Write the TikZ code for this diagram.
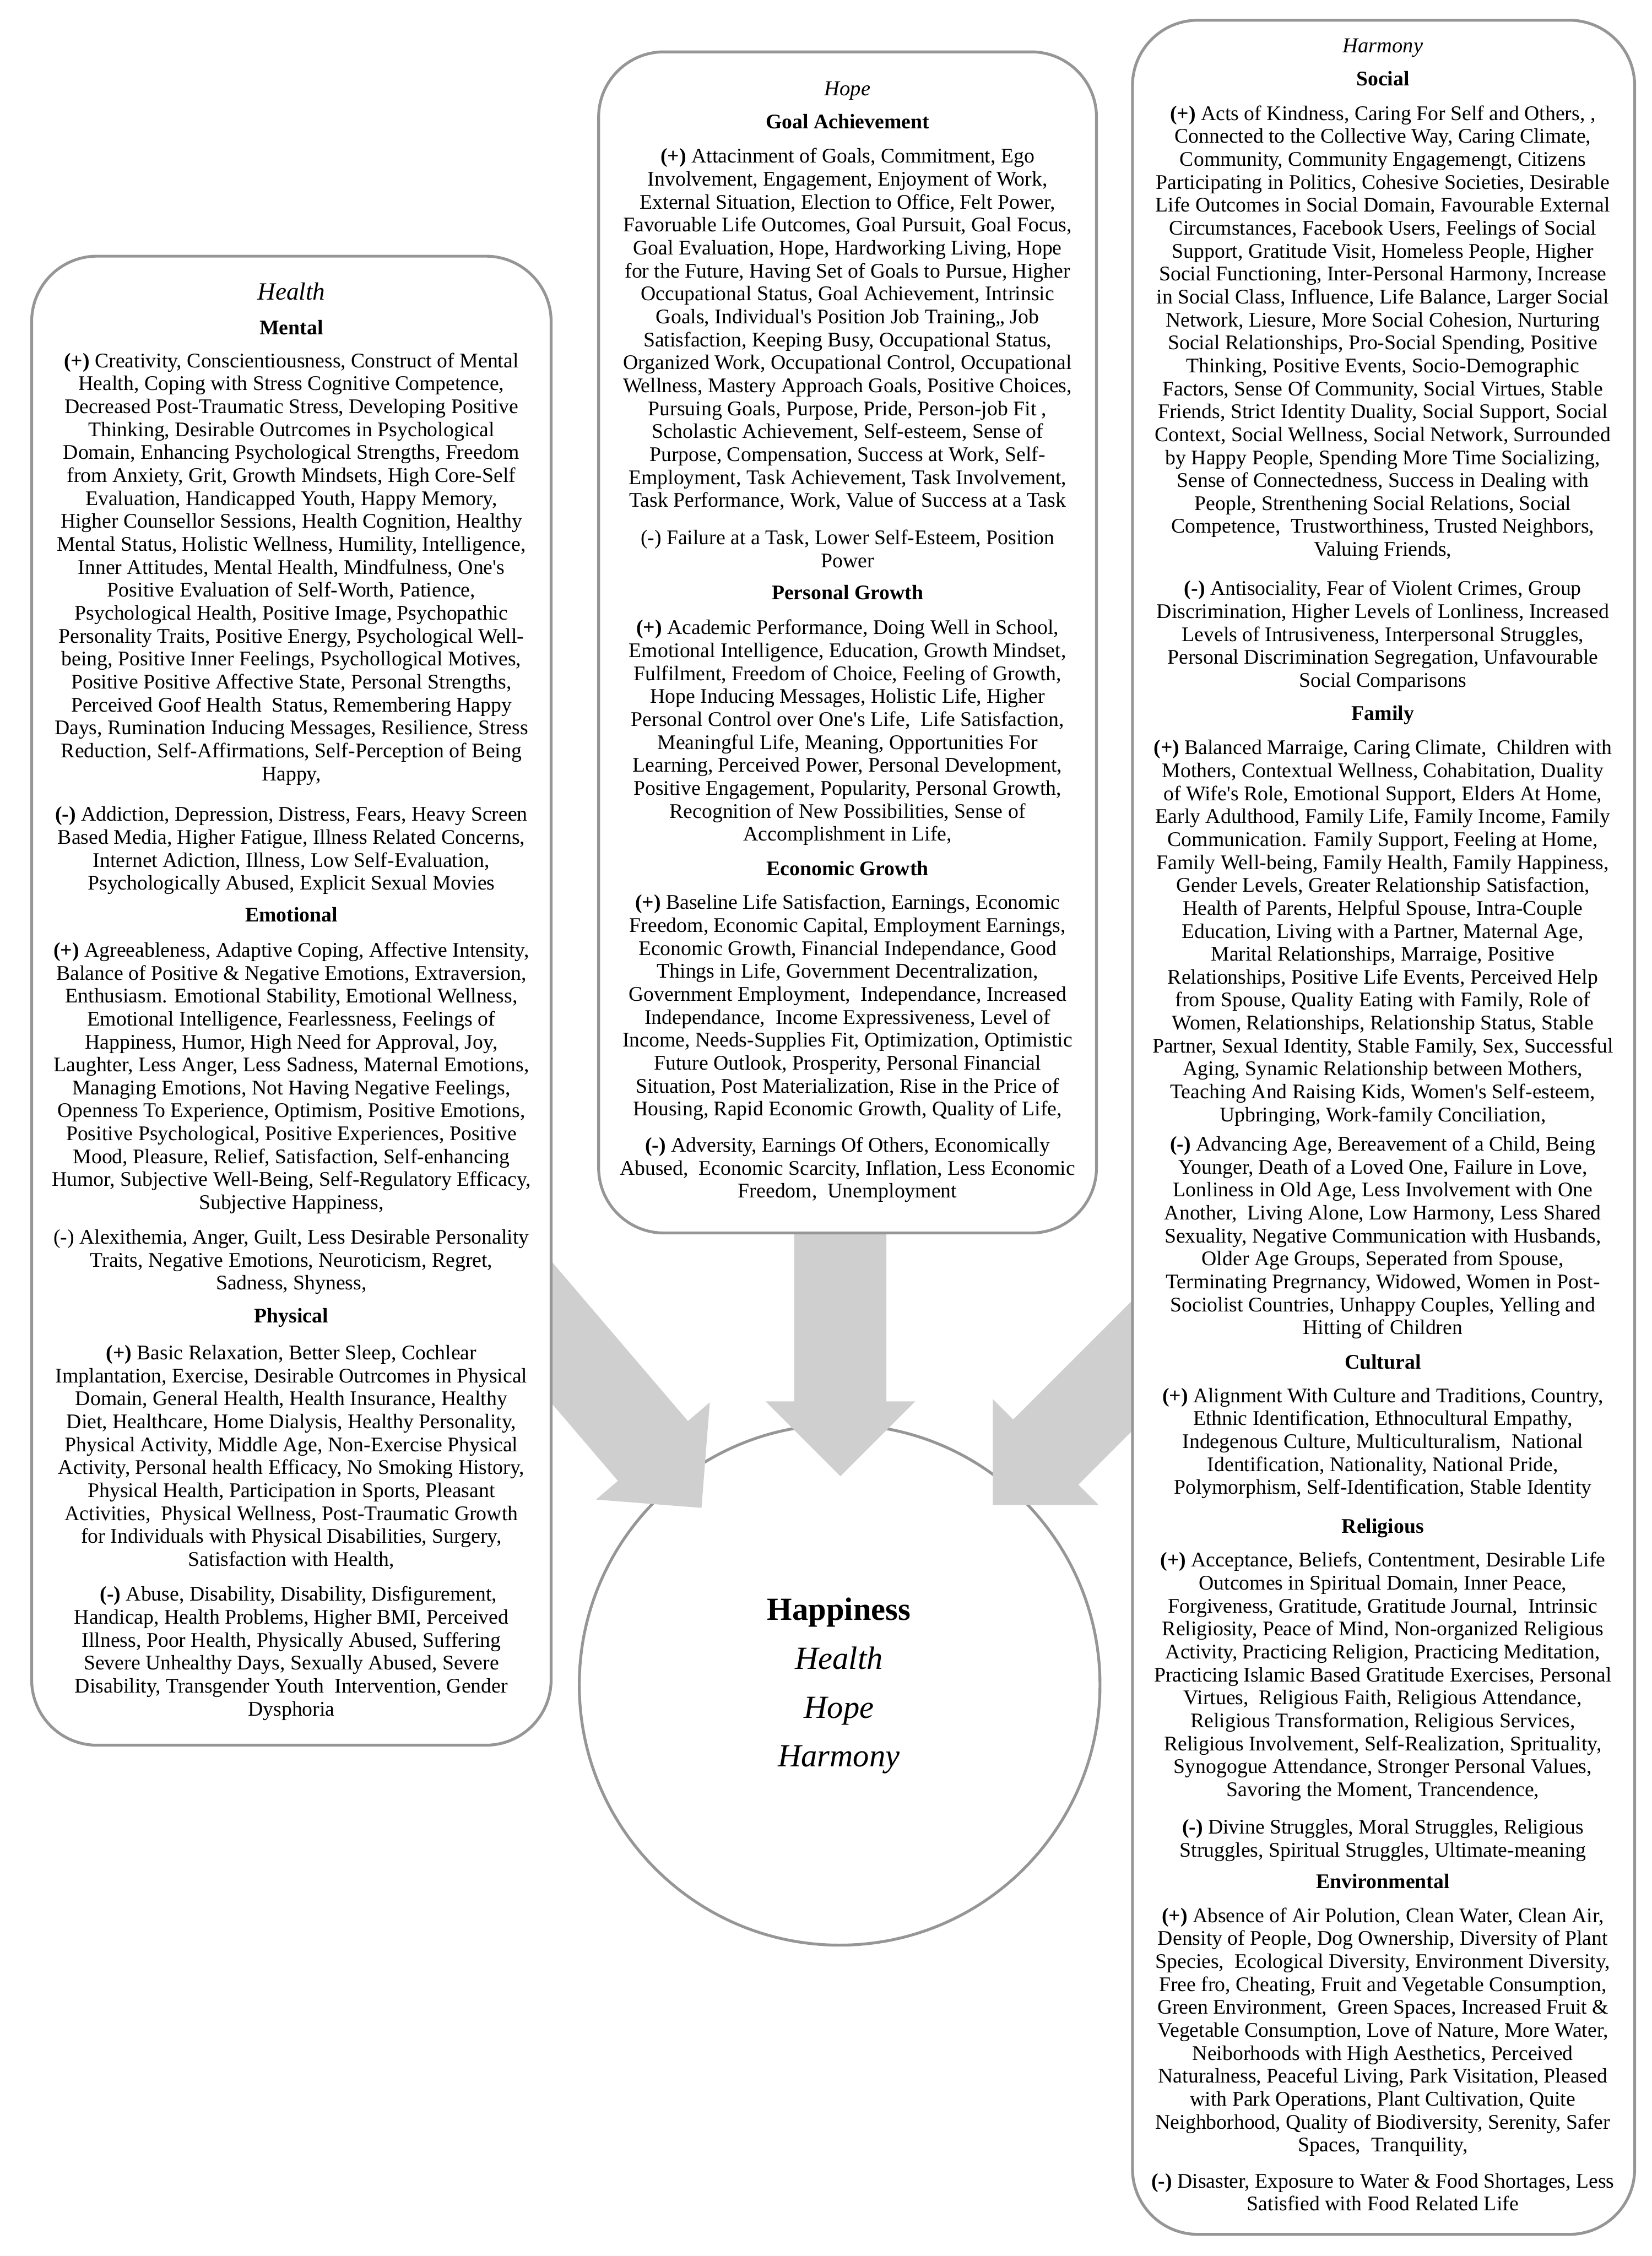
\documentclass[tikz,border=0pt]{standalone}
\usepackage{fontspec}
\setmainfont{Liberation Serif}
\definecolor{boxgray}{RGB}{150,150,150}
\definecolor{arrowgray}{RGB}{207,207,207}
\newcommand{\ap}{\textquotesingle}
\begin{document}
\begin{tikzpicture}[x=0.03526cm,y=-0.03526cm,
  box/.style={draw=boxgray, line width=2pt, fill=white, rounded corners=1.6cm, inner sep=0pt},
  para/.style={font=\fontsize{14.5}{16}\selectfont, align=center, anchor=base, inner sep=0pt},
  head/.style={para, font=\fontsize{14.5}{16}\selectfont\bfseries},
  ttl/.style={para, font=\fontsize{14.8}{16}\selectfont\itshape},
  ctext/.style={anchor=base, inner sep=0pt, font=\fontsize{22.5}{26}\selectfont\itshape},
  blockarrow/.style={fill=arrowgray}]
\useasboundingbox (0,0) rectangle (1148,1568);

% central circle
\node[circle, draw=boxgray, line width=2pt, fill=white, minimum size=12.76cm, inner sep=0pt] (happy) at (583.5,1171) {};

% block arrows
\coordinate (tipT) at (584,1026);
\coordinate (tipL) at (487.5,1048);
\coordinate (tipR) at (690,1046);
\begin{scope}[shift={(tipT)}, rotate=-90]
  \fill[blockarrow] (0,0) -- (-52,52) -- (-52,32) -- (-200,32) -- (-200,-32) -- (-52,-32) -- (-52,-52) -- cycle;
\end{scope}
\begin{scope}[shift={(tipL)}, rotate=-49.5]
  \fill[blockarrow] (0,0) -- (-52,52) -- (-52,32) -- (-300,32) -- (-300,-32) -- (-52,-32) -- (-52,-52) -- cycle;
\end{scope}
\begin{scope}[shift={(tipR)}, rotate=-135]
  \fill[blockarrow] (0,0) -- (-52,52) -- (-52,32) -- (-300,32) -- (-300,-32) -- (-52,-32) -- (-52,-52) -- cycle;
\end{scope}

% boxes
\node[box, minimum width=12.729cm, minimum height=36.494cm] (health) at (202.5,695.5) {};
\node[box, minimum width=12.200cm, minimum height=28.948cm] (hope) at (589,446.5) {};
\node[box, minimum width=12.306cm, minimum height=54.265cm] (harmony) at (961.5,783.5) {};

% circle text
\node[ctext, font=\fontsize{22.5}{26}\selectfont\bfseries] (cHap) at (583,1126) {Happiness};
\node[ctext] (cHealth) at (583,1160) {Health};
\node[ctext] (cHope) at (583,1194) {Hope};
\node[ctext] (cHarmony) at (583,1228) {Harmony};

% (multi-line nodes are placed by the baseline of their last line)
% ---------------- Health ----------------
\node[ttl, font=\fontsize{17.3}{18}\selectfont\itshape] (hTitle) at (202.5,208.5) {Health};
\node[head] (hMental) at (202.5,232.5) {Mental};
\node[para] (hMentalP) at (202.5,542.5) {\textbf{(+)} Creativity, Conscientiousness, Construct of Mental\\
Health, Coping with Stress Cognitive Competence,\\
Decreased Post-Traumatic Stress, Developing Positive\\
Thinking, Desirable Outrcomes in Psychological\\
Domain, Enhancing Psychological Strengths, Freedom\\
from Anxiety, Grit, Growth Mindsets, High Core-Self\\
Evaluation, Handicapped Youth, Happy Memory,\\
Higher Counsellor Sessions, Health Cognition, Healthy\\
Mental Status, Holistic Wellness, Humility, Intelligence,\\
Inner Attitudes, Mental Health, Mindfulness, One\ap s\\
Positive Evaluation of Self-Worth, Patience,\\
Psychological Health, Positive Image, Psychopathic\\
Personality Traits, Positive Energy, Psychological Well-\\
being, Positive Inner Feelings, Psychollogical Motives,\\
Positive Positive Affective State, Personal Strengths,\\
Perceived Goof Health\ \ Status, Remembering Happy\\
Days, Rumination Inducing Messages, Resilience, Stress\\
Reduction, Self-Affirmations, Self-Perception of Being\\
Happy,};
\node[para] (hMentalN) at (202.5,618.5) {\textbf{(-)} Addiction, Depression, Distress, Fears, Heavy Screen\\
Based Media, Higher Fatigue, Illness Related Concerns,\\
Internet Adiction, Illness, Low Self-Evaluation,\\
Psychologically Abused, Explicit Sexual Movies};
\node[head] (hEmo) at (202.5,640.5) {Emotional};
\node[para] (hEmoP) at (202.5,840.5) {\textbf{(+)} Agreeableness, Adaptive Coping, Affective Intensity,\\
Balance of Positive \& Negative Emotions, Extraversion,\\
Enthusiasm. Emotional Stability, Emotional Wellness,\\
Emotional Intelligence, Fearlessness, Feelings of\\
Happiness, Humor, High Need for Approval, Joy,\\
Laughter, Less Anger, Less Sadness, Maternal Emotions,\\
Managing Emotions, Not Having Negative Feelings,\\
Openness To Experience, Optimism, Positive Emotions,\\
Positive Psychological, Positive Experiences, Positive\\
Mood, Pleasure, Relief, Satisfaction, Self-enhancing\\
Humor, Subjective Well-Being, Self-Regulatory Efficacy,\\
Subjective Happiness,};
\node[para] (hEmoN) at (202.5,896.5) {(-) Alexithemia, Anger, Guilt, Less Desirable Personality\\
Traits, Negative Emotions, Neuroticism, Regret,\\
Sadness, Shyness,};
\node[head] (hPhys) at (202.5,919.5) {Physical};
\node[para] (hPhysP) at (202.5,1088.5) {\textbf{(+)} Basic Relaxation, Better Sleep, Cochlear\\
Implantation, Exercise, Desirable Outrcomes in Physical\\
Domain, General Health, Health Insurance, Healthy\\
Diet, Healthcare, Home Dialysis, Healthy Personality,\\
Physical Activity, Middle Age, Non-Exercise Physical\\
Activity, Personal health Efficacy, No Smoking History,\\
Physical Health, Participation in Sports, Pleasant\\
Activities,\ \ Physical Wellness, Post-Traumatic Growth\\
for Individuals with Physical Disabilities, Surgery,\\
Satisfaction with Health,};
\node[para] (hPhysN) at (202.5,1192.5) {\hspace*{10pt}\textbf{(-)} Abuse, Disability, Disability, Disfigurement,\\
Handicap, Health Problems, Higher BMI, Perceived\\
Illness, Poor Health, Physically Abused, Suffering\\
Severe Unhealthy Days, Sexually Abused, Severe\\
Disability, Transgender Youth\ \ Intervention, Gender\\
Dysphoria};

% ---------------- Hope ----------------
\node[ttl] (oTitle) at (589,66.5) {Hope};
\node[head] (oGoal) at (589,89.5) {Goal Achievement};
\node[para] (oGoalP) at (589,352.5) {\textbf{(+)} Attacinment of Goals, Commitment, Ego\\
Involvement, Engagement, Enjoyment of Work,\\
External Situation, Election to Office, Felt Power,\\
Favoruable Life Outcomes, Goal Pursuit, Goal Focus,\\
Goal Evaluation, Hope, Hardworking Living, Hope\\
for the Future, Having Set of Goals to Pursue, Higher\\
Occupational Status, Goal Achievement, Intrinsic\\
Goals, Individual\ap s Position Job Training,, Job\\
Satisfaction, Keeping Busy, Occupational Status,\\
Organized Work, Occupational Control, Occupational\\
Wellness, Mastery Approach Goals, Positive Choices,\\
Pursuing Goals, Purpose, Pride, Person-job Fit ,\\
Scholastic Achievement, Self-esteem, Sense of\\
Purpose, Compensation, Success at Work, Self-\\
Employment, Task Achievement, Task Involvement,\\
Task Performance, Work, Value of Success at a Task};
\node[para] (oGoalN) at (589,394.5) {(-) Failure at a Task, Lower Self-Esteem, Position\\
Power};
\node[head] (oPers) at (589,416.5) {Personal Growth};
\node[para] (oPersP) at (589,584.5) {\textbf{(+)} Academic Performance, Doing Well in School,\\
Emotional Intelligence, Education, Growth Mindset,\\
Fulfilment, Freedom of Choice, Feeling of Growth,\\
Hope Inducing Messages, Holistic Life, Higher\\
Personal Control over One\ap s Life,\ \ Life Satisfaction,\\
Meaningful Life, Meaning, Opportunities For\\
Learning, Perceived Power, Personal Development,\\
Positive Engagement, Popularity, Personal Growth,\\
Recognition of New Possibilities, Sense of\\
Accomplishment in Life,};
\node[head] (oEcon) at (589,608.5) {Economic Growth};
\node[para] (oEconP) at (589,775.5) {\textbf{(+)} Baseline Life Satisfaction, Earnings, Economic\\
Freedom, Economic Capital, Employment Earnings,\\
Economic Growth, Financial Independance, Good\\
Things in Life, Government Decentralization,\\
Government Employment,\ \ Independance, Increased\\
Independance,\ \ Income Expressiveness, Level of\\
Income, Needs-Supplies Fit, Optimization, Optimistic\\
Future Outlook, Prosperity, Personal Financial\\
Situation, Post Materialization, Rise in the Price of\\
Housing, Rapid Economic Growth, Quality of Life,};
\node[para] (oEconN) at (589,832.5) {\textbf{(-)} Adversity, Earnings Of Others, Economically\\
Abused,\ \ Economic Scarcity, Inflation, Less Economic\\
Freedom,\ \ Unemployment};

% ---------------- Harmony ----------------
\node[ttl] (rTitle) at (961,36.5) {Harmony};
\node[head] (rSoc) at (961,59.5) {Social};
\node[para] (rSocP) at (961,386.5) {\textbf{(+)} Acts of Kindness, Caring For Self and Others, ,\\
Connected to the Collective Way, Caring Climate,\\
Community, Community Engagemengt, Citizens\\
Participating in Politics, Cohesive Societies, Desirable\\
Life Outcomes in Social Domain, Favourable External\\
Circumstances, Facebook Users, Feelings of Social\\
Support, Gratitude Visit, Homeless People, Higher\\
Social Functioning, Inter-Personal Harmony, Increase\\
in Social Class, Influence, Life Balance, Larger Social\\
Network, Liesure, More Social Cohesion, Nurturing\\
Social Relationships, Pro-Social Spending, Positive\\
Thinking, Positive Events, Socio-Demographic\\
Factors, Sense Of Community, Social Virtues, Stable\\
Friends, Strict Identity Duality, Social Support, Social\\
Context, Social Wellness, Social Network, Surrounded\\
by Happy People, Spending More Time Socializing,\\
Sense of Connectedness, Success in Dealing with\\
People, Strenthening Social Relations, Social\\
Competence,\ \ Trustworthiness, Trusted Neighbors,\\
Valuing Friends,};
\node[para] (rSocN) at (961,477.5) {\textbf{(-)} Antisociality, Fear of Violent Crimes, Group\\
Discrimination, Higher Levels of Lonliness, Increased\\
Levels of Intrusiveness, Interpersonal Struggles,\\
Personal Discrimination Segregation, Unfavourable\\
Social Comparisons};
\node[head] (rFam) at (961,500.5) {Family};
\node[para] (rFamP) at (961,779.5) {\textbf{(+)} Balanced Marraige, Caring Climate,\ \ Children with\\
Mothers, Contextual Wellness, Cohabitation, Duality\\
of Wife\ap s Role, Emotional Support, Elders At Home,\\
Early Adulthood, Family Life, Family Income, Family\\
Communication. Family Support, Feeling at Home,\\
Family Well-being, Family Health, Family Happiness,\\
Gender Levels, Greater Relationship Satisfaction,\\
Health of Parents, Helpful Spouse, Intra-Couple\\
Education, Living with a Partner, Maternal Age,\\
Marital Relationships, Marraige, Positive\\
Relationships, Positive Life Events, Perceived Help\\
from Spouse, Quality Eating with Family, Role of\\
Women, Relationships, Relationship Status, Stable\\
Partner, Sexual Identity, Stable Family, Sex, Successful\\
Aging, Synamic Relationship between Mothers,\\
Teaching And Raising Kids, Women\ap s Self-esteem,\\
Upbringing, Work-family Conciliation,};
\node[para] (rFamN) at (961,927.5) {\textbf{(-)} Advancing Age, Bereavement of a Child, Being\\
Younger, Death of a Loved One, Failure in Love,\\
Lonliness in Old Age, Less Involvement with One\\
Another,\ \ Living Alone, Low Harmony, Less Shared\\
Sexuality, Negative Communication with Husbands,\\
Older Age Groups, Seperated from Spouse,\\
Terminating Pregrnancy, Widowed, Women in Post-\\
Sociolist Countries, Unhappy Couples, Yelling and\\
Hitting of Children};
\node[head] (rCult) at (961,951.5) {Cultural};
\node[para] (rCultP) at (961,1038.5) {\textbf{(+)} Alignment With Culture and Traditions, Country,\\
Ethnic Identification, Ethnocultural Empathy,\\
Indegenous Culture, Multiculturalism,\ \ National\\
Identification, Nationality, National Pride,\\
Polymorphism, Self-Identification, Stable Identity};
\node[head] (rRel) at (961,1065.5) {Religious};
\node[para] (rRelP) at (961,1248.5) {\textbf{(+)} Acceptance, Beliefs, Contentment, Desirable Life\\
Outcomes in Spiritual Domain, Inner Peace,\\
Forgiveness, Gratitude, Gratitude Journal,\ \ Intrinsic\\
Religiosity, Peace of Mind, Non-organized Religious\\
Activity, Practicing Religion, Practicing Meditation,\\
Practicing Islamic Based Gratitude Exercises, Personal\\
Virtues,\ \ Religious Faith, Religious Attendance,\\
Religious Transformation, Religious Services,\\
Religious Involvement, Self-Realization, Sprituality,\\
Synogogue Attendance, Stronger Personal Values,\\
Savoring the Moment, Trancendence,};
\node[para] (rRelN) at (961,1290.5) {\textbf{(-)} Divine Struggles, Moral Struggles, Religious\\
Struggles, Spiritual Struggles, Ultimate-meaning};
\node[head] (rEnv) at (961,1312.5) {Environmental};
\node[para] (rEnvP) at (961,1495.5) {\textbf{(+)} Absence of Air Polution, Clean Water, Clean Air,\\
Density of People, Dog Ownership, Diversity of Plant\\
Species,\ \ Ecological Diversity, Environment Diversity,\\
Free fro, Cheating, Fruit and Vegetable Consumption,\\
Green Environment,\ \ Green Spaces, Increased Fruit \&\\
Vegetable Consumption, Love of Nature, More Water,\\
Neiborhoods with High Aesthetics, Perceived\\
Naturalness, Peaceful Living, Park Visitation, Pleased\\
with Park Operations, Plant Cultivation, Quite\\
Neighborhood, Quality of Biodiversity, Serenity, Safer\\
Spaces,\ \ Tranquility,};
\node[para] (rEnvN) at (961,1536.5) {\textbf{(-)} Disaster, Exposure to Water \& Food Shortages, Less\\
Satisfied with Food Related Life};
\end{tikzpicture}
\end{document}
